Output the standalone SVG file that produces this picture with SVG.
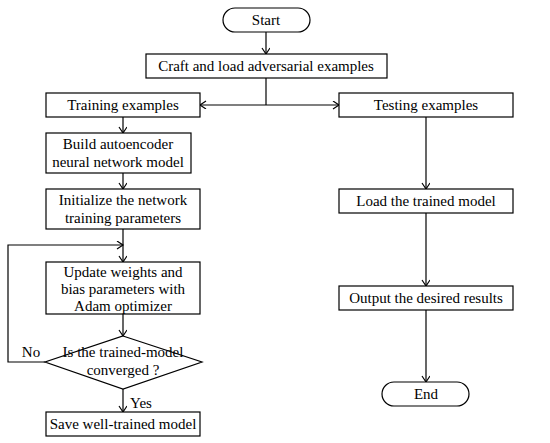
<svg xmlns="http://www.w3.org/2000/svg" width="550" height="443" viewBox="0 0 550 443">
<style>
.b{fill:#fff;stroke:#000;stroke-width:1.2}
.t{font-family:"Liberation Serif",serif;font-size:15px;fill:#000;text-anchor:middle}
.c{fill:none;stroke:#000;stroke-width:1.2}
</style>
<defs>
<marker id="a" markerWidth="10" markerHeight="10" refX="7" refY="4" orient="auto" markerUnits="userSpaceOnUse">
<path d="M1,0 L7,4 L1,8" fill="none" stroke="#000" stroke-width="1.2"/>
</marker>
</defs>
<g id="connectors">
<line class="c" x1="266" y1="32" x2="266" y2="54" marker-end="url(#a)"/>
<line class="c" x1="266" y1="78" x2="266" y2="105"/>
<line class="c" x1="266" y1="105" x2="200" y2="105" marker-end="url(#a)"/>
<line class="c" x1="266" y1="105" x2="339" y2="105" marker-end="url(#a)"/>
<line class="c" x1="123" y1="117" x2="123" y2="133" marker-end="url(#a)"/>
<line class="c" x1="123" y1="173" x2="123" y2="189" marker-end="url(#a)"/>
<line class="c" x1="123" y1="229" x2="123" y2="262" marker-end="url(#a)"/>
<polyline class="c" points="45,362 8,362 8,245 123,245" marker-end="url(#a)"/>
<line class="c" x1="123" y1="314" x2="123" y2="336" marker-end="url(#a)"/>
<line class="c" x1="123" y1="389" x2="123" y2="412" marker-end="url(#a)"/>
<line class="c" x1="426" y1="117" x2="426" y2="189" marker-end="url(#a)"/>
<line class="c" x1="426" y1="213" x2="426" y2="286" marker-end="url(#a)"/>
<line class="c" x1="426" y1="310" x2="426" y2="382" marker-end="url(#a)"/>
<text class="t" x="31" y="357">No</text>
<text class="t" x="141" y="408">Yes</text>
</g>
<g id="start"><rect class="b" x="223" y="8" width="87" height="24" rx="12"/><text class="t" x="266" y="25">Start</text></g>
<g id="craft"><rect class="b" x="146" y="54" width="241" height="24"/><text class="t" x="266" y="71">Craft and load adversarial examples</text></g>
<g id="training"><rect class="b" x="46" y="93" width="154" height="24"/><text class="t" x="123" y="110">Training examples</text></g>
<g id="testing"><rect class="b" x="339" y="93" width="174" height="24"/><text class="t" x="426" y="110">Testing examples</text></g>
<g id="build"><rect class="b" x="46" y="133" width="145" height="40"/><text class="t" x="118" y="149">Build autoencoder</text><text class="t" x="118" y="167">neural network model</text></g>
<g id="init"><rect class="b" x="46" y="189" width="154" height="40"/><text class="t" x="123" y="205">Initialize the network</text><text class="t" x="123" y="223">training parameters</text></g>
<g id="update"><rect class="b" x="46" y="262" width="154" height="52"/><text class="t" x="123" y="277">Update weights and</text><text class="t" x="123" y="294">bias parameters with</text><text class="t" x="123" y="311">Adam optimizer</text></g>
<g id="decision"><polygon class="b" points="123,336 202,362 123,389 45,362"/><text class="t" x="123" y="357">Is the trained-model</text><text class="t" x="123" y="375">converged ?</text></g>
<g id="save"><rect class="b" x="46" y="412" width="154" height="24"/><text class="t" x="123" y="429">Save well-trained model</text></g>
<g id="load"><rect class="b" x="339" y="189" width="174" height="24"/><text class="t" x="426" y="206">Load the trained model</text></g>
<g id="output"><rect class="b" x="339" y="286" width="174" height="24"/><text class="t" x="426" y="303">Output the desired results</text></g>
<g id="end"><rect class="b" x="382" y="382" width="87" height="24" rx="12"/><text class="t" x="426" y="399">End</text></g>
</svg>
